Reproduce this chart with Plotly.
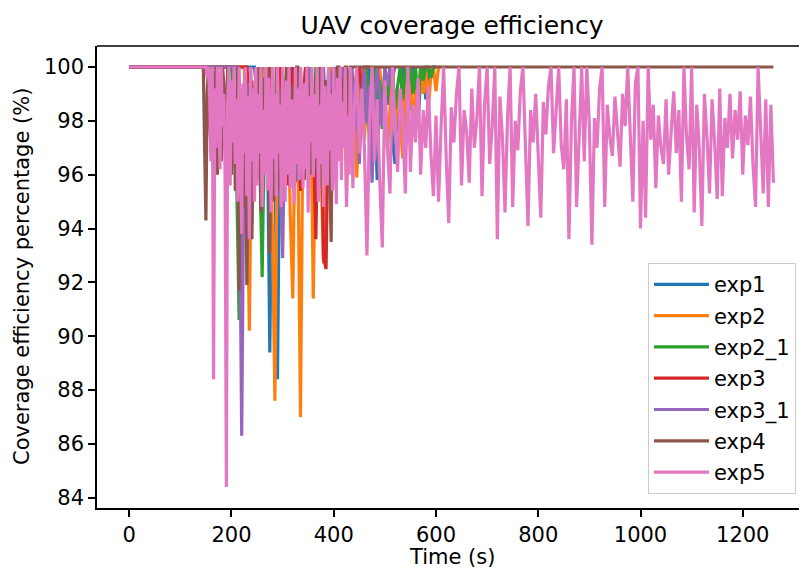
import plotly.graph_objects as go

TITLE = "UAV coverage efficiency"
X_LABEL = "Time (s)"
Y_LABEL = "Coverage efficiency percentage (%)"
X_TICKS = [0, 200, 400, 600, 800, 1000, 1200]
Y_TICKS = [84, 86, 88, 90, 92, 94, 96, 98, 100]

STEP = 5          # sampling interval (s)
FINE_STEP = 2.5   # denser sampling where exp4 / exp5 oscillate fastest
FLAT_START = 0
FLAT_VALUE = 100.0

exp1_start = 245
exp1_vals = [100, 99.0, 97.8, 100, 96.5, 98.4, 89.4, 99.0, 97.0, 88.4,
             98.8, 96.2, 99.4, 97.5, 100, 95.8, 98.6, 97.0, 99.5, 96.4,
             98.9, 100, 97.3, 96.0, 99.2, 97.8, 100, 95.6, 98.5, 99.6,
             97.0, 98.8, 100, 96.8, 99.0, 98.1, 100, 97.4, 99.3, 96.9,
             98.7, 100, 97.6, 99.1, 98.2, 100, 96.4, 98.8, 95.8, 99.5,
             97.9, 100, 98.6, 99.4, 97.2, 96.4, 99.0, 98.1, 100, 97.7,
             99.3, 98.4, 100, 99.0, 97.9, 99.6, 100, 98.8, 100, 99.6,
             100, 100]

exp2_start = 225
exp2_vals = [100, 97.0, 90.2, 99.0, 97.4, 100, 95.8, 98.2, 100, 96.4,
             99.0, 94.0, 87.6, 98.6, 96.0, 100, 97.2, 99.4, 94.5, 91.4,
             99.0, 96.8, 87.0, 98.5, 100, 96.6, 99.2, 91.4, 98.0, 100,
             96.2, 92.7, 99.1, 97.6, 100, 96.0, 98.4, 99.5, 97.0, 100,
             95.2, 98.8, 97.4, 99.6, 95.9, 98.2, 100, 97.3, 99.0, 98.0,
             96.0, 99.4, 97.8, 100, 98.5, 99.2, 96.9, 98.4, 100, 97.6,
             99.1, 98.0, 96.6, 99.5, 98.3, 100, 97.5, 99.2, 98.6, 100,
             99.0, 100, 98.4, 99.7, 100, 99.1, 100, 100]

exp2_1_start = 200
exp2_1_vals = [100, 98.5, 96.0, 90.6, 99.2, 97.4, 100, 96.8, 98.8, 95.6,
               99.4, 97.0, 92.2, 98.6, 100, 96.2, 99.0, 97.5, 100, 95.9,
               98.4, 99.6, 96.8, 98.9, 100, 97.3, 95.8, 99.2, 98.0, 100,
               96.9, 99.0, 97.8, 100, 96.4, 98.6, 99.5, 97.2, 100, 98.1,
               96.8, 99.3, 100, 97.9, 98.8, 100, 96.9, 99.4, 98.3, 100,
               97.2, 99.1, 98.0, 100, 97.0, 99.4, 100, 98.6, 99.5, 97.7,
               100, 98.9, 99.6, 100, 98.4, 99.3, 100, 98.8, 100, 99.4,
               100, 99.0, 100, 98.7, 100, 99.5, 100, 100, 99.6, 100, 100]

exp3_start = 230
exp3_vals = [100, 98.6, 99.5, 97.0, 100, 98.2, 96.4, 99.3, 97.8, 100,
             95.9, 98.8, 97.4, 100, 96.0, 99.1, 95.6, 98.5, 100, 97.2,
             99.0, 95.4, 98.7, 100, 96.6, 99.4, 97.5, 93.6, 98.9, 100,
             92.9, 92.5, 99.0, 96.8, 100, 98.4, 97.0, 99.5, 100, 98.0,
             99.2, 100, 98.6, 99.5, 100, 99.1, 100, 100, 100]

exp3_1_start = 210
exp3_1_vals = [100, 97.5, 86.3, 98.0, 96.2, 99.4, 94.2, 98.6, 100, 96.8,
               99.2, 97.6, 100, 95.4, 98.8, 97.0, 99.5, 96.3, 92.9, 98.6,
               100, 97.4, 99.0, 95.7, 98.4, 100, 96.9, 99.3, 97.8, 100,
               96.1, 98.9, 99.6, 97.2, 100, 98.1, 96.6, 99.4, 100, 97.7,
               98.9, 100, 97.0, 99.2, 98.4, 100, 97.6, 99.0, 96.4, 98.8,
               100, 97.9, 99.3, 95.7, 98.6, 100, 99.0, 97.8, 100, 99.3,
               100, 99.6, 100]

# exp4: fast oscillation 145-437.5 s (2.5 s samples), then 100 until 1260 s
exp4_start = 145
exp4_vals = [100, 97.0, 94.3, 99.0, 100, 98.2, 96.8, 100,
             97.7, 99.4, 100, 96.0, 98.2, 99.5, 96.5, 100,
             99.4, 97.0, 97.8, 100, 95.8, 99.2, 96.0, 98.6,
             98.8, 95.4, 97.2, 100, 91.7, 98.4, 99.0, 94.8,
             95.5, 99.6, 91.9, 97.0, 97.5, 100, 93.6, 98.2,
             99.2, 95.8, 96.8, 100, 98.5, 94.6, 95.2, 99.0,
             99.6, 96.2, 97.0, 100, 93.1, 98.0, 98.4, 95.0,
             96.2, 100, 99.5, 96.6, 95.4, 99.2, 98.0, 95.6,
             96.8, 100, 99.3, 97.0, 95.8, 99.4, 98.6, 96.0,
             97.2, 100, 100, 95.9, 96.4, 99.0, 98.9, 95.8,
             97.0, 100, 99.4, 96.5, 96.0, 99.2, 98.2, 97.0,
             99.6, 96.0, 97.1, 100, 98.8, 95.5, 96.6, 99.4,
             99.5, 96.2, 97.8, 94.8, 93.5, 99.2, 99.0, 97.0,
             98.2, 100, 100, 97.4, 97.6, 99.6, 99.3, 100,
             100, 98.4, 98.8, 100, 100, 100]
exp4_end_time = 1260
exp4_end_value = 100.0

# exp5: fast oscillation 150-437.5 s (2.5 s samples), then 5 s samples to 1260 s
exp5_early_start = 150
exp5_early_vals = [100, 99.6, 100, 98.8, 96.5, 100, 88.4, 99.2,
                   97.0, 100, 99.4, 96.2, 100, 97.8, 99.0, 96.0,
                   84.4, 98.6, 100, 95.6, 99.5, 97.2, 100, 96.4,
                   98.8, 95.0, 100, 97.6, 93.8, 99.4, 96.8, 100,
                   95.2, 98.9, 93.6, 100, 96.5, 99.2, 95.0, 100,
                   95.6, 99.0, 96.8, 100, 94.8, 98.4, 96.0, 100,
                   95.4, 99.6, 97.2, 94.6, 100, 96.6, 99.0, 95.2,
                   100, 96.8, 98.6, 94.8, 100, 97.4, 95.0, 99.5,
                   96.0, 100, 95.5, 98.8, 97.0, 94.9, 100, 96.4,
                   99.2, 95.8, 100, 97.6, 95.5, 99.4, 96.2, 100,
                   94.6, 98.9, 97.2, 100, 95.9, 99.0, 96.6, 100,
                   95.0, 98.6, 96.4, 100, 94.8, 99.3, 97.8, 95.6,
                   100, 96.9, 99.0, 95.4, 100, 97.2, 94.9, 99.6,
                   96.5, 100, 95.8, 98.7, 97.0, 100, 94.8, 98.2,
                   96.0, 100, 97.4, 95.5]
exp5_late_start = 440
exp5_late_vals = [98.3, 100,
                  96.8, 99.2, 97.0, 93.0, 98.0, 100, 96.5, 98.8, 95.8, 93.3,
                  99.5, 97.0, 95.3, 100, 97.8, 96.1, 99.2, 98.0, 95.3, 100,
                  96.1, 98.6, 97.2, 99.6, 96.0, 98.4, 97.0, 99.3, 96.8, 95.2,
                  98.2, 95.0, 97.8, 100, 96.6, 94.2, 98.5, 97.2, 99.0, 100,
                  95.6, 98.4, 97.6, 95.7, 99.2, 97.0, 98.1, 100, 95.2, 98.6,
                  100, 96.4, 97.8, 100, 93.6, 98.9, 97.4, 94.6, 98.2, 100,
                  94.8, 98.0, 96.9, 99.1, 100, 97.0, 94.1, 98.4, 97.2, 99.0,
                  96.6, 94.4, 98.7, 97.5, 99.3, 100, 96.8, 98.3, 100, 97.1,
                  96.2, 98.8, 93.6, 98.0, 100, 94.8, 97.6, 100, 96.5, 100,
                  97.8, 93.4, 98.1, 97.0, 99.2, 100, 94.8, 98.6, 97.4, 96.7,
                  98.9, 97.6, 96.3, 99.0, 97.8, 100, 97.2, 95.0, 99.4, 100,
                  94.0, 98.0, 94.4, 100, 97.3, 98.6, 95.5, 98.2, 97.0, 96.4,
                  98.8, 96.0, 97.6, 99.1, 96.8, 98.4, 95.0, 100, 97.4, 96.2,
                  100, 94.6, 98.6, 97.0, 94.1, 99.0, 97.4, 95.3, 98.8, 97.2,
                  95.1, 99.2, 95.2, 98.1, 97.0, 99.0, 96.6, 98.4, 97.3, 99.1,
                  96.0, 98.2, 97.1, 98.9, 96.4, 94.8, 100, 97.6, 95.3, 98.8,
                  94.8, 98.6, 95.7]

NAMES = ["exp1", "exp2", "exp2_1", "exp3", "exp3_1", "exp4", "exp5"]
COLORS = ["#1f77b4", "#ff7f0e", "#2ca02c", "#d62728", "#9467bd", "#8c564b", "#e377c2"]


def build(segments, tail=None):
    xs, ys = [FLAT_START], [FLAT_VALUE]
    for start, step, vals in segments:
        xs += [start + step * i for i in range(len(vals))]
        ys += list(vals)
    if tail is not None:
        xs.append(tail[0])
        ys.append(tail[1])
    return xs, ys


data = [
    build([(exp1_start, STEP, exp1_vals)]),
    build([(exp2_start, STEP, exp2_vals)]),
    build([(exp2_1_start, STEP, exp2_1_vals)]),
    build([(exp3_start, STEP, exp3_vals)]),
    build([(exp3_1_start, STEP, exp3_1_vals)]),
    build([(exp4_start, FINE_STEP, exp4_vals)], tail=(exp4_end_time, exp4_end_value)),
    build([(exp5_early_start, FINE_STEP, exp5_early_vals),
           (exp5_late_start, STEP, exp5_late_vals)]),
]

FONT = "DejaVu Sans"
fig = go.Figure()
for (xs, ys), name, color in zip(data, NAMES, COLORS):
    fig.add_trace(go.Scatter(x=xs, y=ys, mode="lines", name=name, legendgroup=name,
                             line=dict(color=color, width=3.2)))

W, H = 799, 574
L, R, T, B = 97, 0, 46, 66
fig.update_layout(
    width=W, height=H,
    margin=dict(l=L, r=R, t=T, b=B),
    paper_bgcolor="white", plot_bgcolor="white",
    font=dict(family=FONT, size=21, color="black"),
    showlegend=True,
    legend=dict(x=0.9957, y=0.03, xanchor="right", yanchor="bottom",
                bgcolor="rgba(255,255,255,0.8)", bordercolor="#cccccc",
                borderwidth=1, font=dict(size=21, family=FONT),
                itemwidth=55, tracegroupgap=1),
    title=dict(text=TITLE, x=(452 - L) / (W - L - R), xref="paper", xanchor="center",
               y=1 - 25 / H, yref="container", yanchor="middle",
               font=dict(size=25, family=FONT, color="black")),
)
fig.update_xaxes(range=[-63, 1310], tickvals=X_TICKS, ticktext=[str(v) for v in X_TICKS],
                 showgrid=False, zeroline=False, showline=True, linecolor="black",
                 linewidth=1.5, ticks="outside", ticklen=7, tickwidth=1.5,
                 tickcolor="black", tickfont=dict(size=21, family=FONT))
fig.update_yaxes(range=[83.62, 100.78], tickvals=Y_TICKS, ticktext=[str(v) for v in Y_TICKS],
                 showgrid=False, zeroline=False, showline=True, linecolor="black",
                 linewidth=1.5, ticks="outside", ticklen=7, tickwidth=1.5,
                 tickcolor="black", tickfont=dict(size=21, family=FONT))
fig.add_shape(type="line", xref="paper", yref="paper", x0=0, x1=1, y0=1, y1=1,
              line=dict(color="black", width=1.5))
fig.add_annotation(text=X_LABEL, xref="paper", yref="paper",
                   x=(452 - L) / (W - L - R), y=(H - B - 557) / (H - T - B),
                   xanchor="center", yanchor="middle", showarrow=False,
                   font=dict(size=21, family=FONT, color="black"))
fig.add_annotation(text=Y_LABEL, xref="paper", yref="paper",
                   x=(22 - L) / (W - L - R), y=0.5, textangle=-90,
                   xanchor="center", yanchor="middle", showarrow=False,
                   font=dict(size=21, family=FONT, color="black"))

fig.write_html("out.html")
